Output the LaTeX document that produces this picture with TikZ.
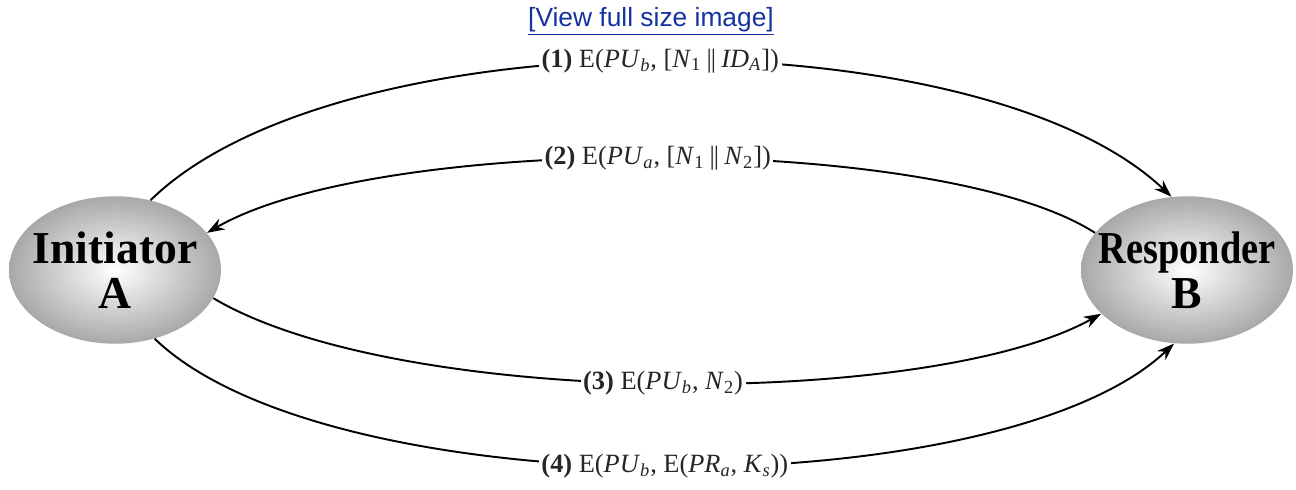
\documentclass[tikz,border=0pt]{standalone}
\usepackage{fontspec}
\setmainfont{Liberation Serif}
\newfontfamily\linkfont{Liberation Sans}
\usetikzlibrary{shapes.geometric,arrows.meta}
\newcommand\sbs[1]{\textsubscript{\textit{#1}}}
\newcommand\sbn[1]{\textsubscript{#1}}
\newcommand\pll{\kern3pt\textbar\kern-0.6pt\textbar\kern3pt}
\definecolor{linkblue}{RGB}{20,50,160}
\tikzset{
  party/.style={ellipse, draw=none, minimum width=4.24cm, minimum height=2.95cm,
    inner sep=0pt, inner color=white, outer color=gray!68},
  partytext/.style={align=center, font=\fontsize{26}{25.5}\selectfont\bfseries},
  msg/.style={line width=1.1pt, -{Stealth[length=10pt,width=7pt]}},
  msglabel/.style={fill=white, inner sep=1.5pt, font=\fontsize{15}{17}\selectfont, text=black!85}
}
\begin{document}
\begin{tikzpicture}[x=0.02cm, y=-0.02cm]
\useasboundingbox (0,0) rectangle (1296,490);
\node (link) at (651,21) {\linkfont\fontsize{15}{17}\selectfont\color{linkblue}\underline{[View full size image]}};
\node[party] (A) at (115,270) {};
\node[partytext] (At) at (A.center) {Initiator\\A};
\node[party] (B) at (1187,270) {};
\node[partytext] (Bt) at (B.center) {\scalebox{0.84}[1]{Responder}\\B};
\draw[msg] (A.63) .. controls (340,15) and (980,15) .. node[msglabel] (l1) {{\bfseries (1)} E(\textit{PU}\sbs{b}, [\textit{N}\sbn{1}\pll\textit{ID}\sbs{A}])} (B.102);
\draw[msg] (B.158) .. controls (940,133) and (380,133) .. node[msglabel] (l2) {{\bfseries (2)} E(\textit{PU}\sbs{a}, [\textit{N}\sbn{1}\pll\textit{N}\sbn{2}])} (A.22);
\draw[msg] (A.-16) .. controls (400,409) and (930,409) .. node[msglabel] (l3) {{\bfseries (3)} E(\textit{PU}\sbs{b}, \textit{N}\sbn{2})} (B.207);
\draw[msg] (A.-60) .. controls (330,508) and (1000,508) .. node[msglabel] (l4) {{\bfseries (4)} E(\textit{PU}\sbs{b}, E(\textit{PR}\sbs{a}, \textit{K}\sbs{s}))} (B.260);
\end{tikzpicture}
\end{document}
